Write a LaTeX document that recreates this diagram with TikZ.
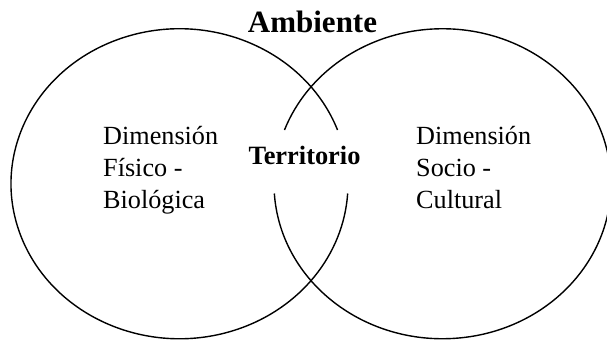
\documentclass[tikz,border=0pt]{standalone}
\usepackage{fontspec}
\setmainfont{Liberation Serif}
\begin{document}
\begin{tikzpicture}[x=1pt,y=1pt,
  ring/.style={line width=1.4pt, black},
  label/.style={inner sep=0pt, anchor=base west, font=\fontsize{26.2pt}{31.7pt}\selectfont},
  boldlabel/.style={inner sep=0pt, anchor=base, font=\bfseries\fontsize{26.4pt}{31.7pt}\selectfont},
  title/.style={inner sep=0pt, anchor=base, font=\bfseries\fontsize{31pt}{36pt}\selectfont}]
\useasboundingbox (0,0) rectangle (607,340);
\coordinate (L) at (179.5,156.25);
\coordinate (R) at (442.5,156.25);
% left ellipse, gap at its right for the central label
\draw[ring] ([shift={(20.29:168.5 and 155)}]L) arc[start angle=20.29, end angle=356.39, x radius=168.5, y radius=155];
% right ellipse, gap at its left for the central label
\draw[ring] ([shift={(183.61:168.5 and 155)}]R) arc[start angle=183.61, end angle=519.71, x radius=168.5, y radius=155];
\node[title] (amb) at (312.5,307) {Ambiente};
\node[boldlabel] (ter) at (304.5,175) {Territorio};
\node[label] (l1) at (103,195) {Dimensión};
\node[label] (l2) at (103,163.3) {Físico -};
\node[label] (l3) at (103,131.7) {Biológica};
\node[label] (r1) at (416,195) {Dimensión};
\node[label] (r2) at (416,163.3) {Socio -};
\node[label] (r3) at (416,131.7) {Cultural};
\end{tikzpicture}
\end{document}
